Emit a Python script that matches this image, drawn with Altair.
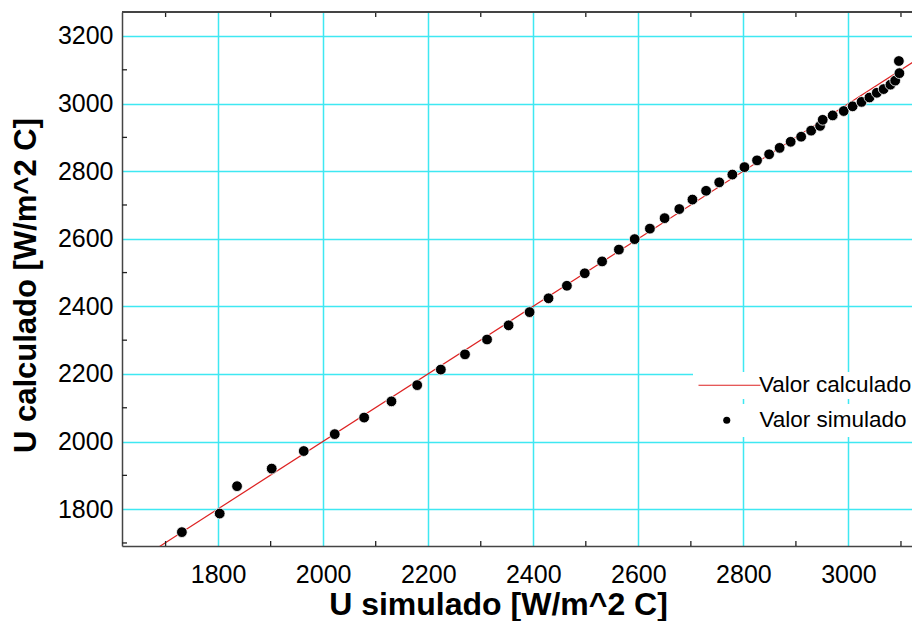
import altair as alt
import pandas as pd

# ---- data ----
sim_x = [1731, 1803, 1836, 1902, 1963, 2022, 2078, 2130, 2179, 2224,
         2270, 2312, 2353, 2393, 2429, 2464, 2498, 2531, 2563, 2593,
         2622, 2650, 2678, 2703, 2729, 2754, 2779, 2802, 2826, 2849,
         2869, 2890, 2910, 2929, 2946, 2951, 2970, 2991, 3008, 3025,
         3040, 3054, 3067, 3080, 3089, 3097, 3096]
sim_y = [1732, 1787, 1868, 1920, 1972, 2022, 2071, 2119, 2167, 2213,
         2258, 2302, 2344, 2383, 2424, 2461, 2498, 2533, 2568, 2599,
         2630, 2661, 2688, 2716, 2742, 2767, 2790, 2812, 2832, 2850,
         2869, 2887, 2902, 2920, 2934, 2952, 2965, 2978, 2992, 3005,
         3018, 3032, 3043, 3056, 3068, 3090, 3126]

calc_x = [1650, 3150]
calc_y = [1651, 3150]

x_major = [1800, 2000, 2200, 2400, 2600, 2800, 3000]
x_minor = [1700, 1900, 2100, 2300, 2500, 2700, 2900, 3100]
y_major = [1800, 2000, 2200, 2400, 2600, 2800, 3000, 3200]
y_minor = [1700, 1900, 2100, 2300, 2500, 2700, 2900, 3100]

x_domain = [1617, 3121]
y_domain = [1691, 3271]

W, H = 790, 534
FONT = "Liberation Sans"
GRID = "#3ee8f2"
AXIS = "#444444"
RED = "#dd2222"

sim_df = pd.DataFrame({"x": sim_x, "y": sim_y, "serie": "Valor simulado"})
calc_df = pd.DataFrame({"x": calc_x, "y": calc_y, "serie": "Valor calculado"})
xminor_df = pd.DataFrame({"v": x_minor})
yminor_df = pd.DataFrame({"v": y_minor})

xscale = alt.Scale(domain=x_domain, nice=False, zero=False)
yscale = alt.Scale(domain=y_domain, nice=False, zero=False)

xaxis = alt.Axis(values=x_major, format="d", grid=True, gridColor=GRID, gridWidth=1.5,
                 domain=True, domainColor=AXIS, domainWidth=1.5,
                 ticks=False, tickSize=0, labelFont=FONT, labelFontSize=25,
                 labelColor="black", labelPadding=16, labelFlush=False,
                 title="U simulado [W/m^2 C]", titleFont=FONT, titleFontSize=32,
                 titleFontWeight="bold", titleColor="black",
                 titleAlign="center", titleBaseline="alphabetic",
                 titleX=376, titleY=68)
yaxis = alt.Axis(values=y_major, format="d", grid=True, gridColor=GRID, gridWidth=1.5,
                 domain=True, domainColor=AXIS, domainWidth=1.5,
                 ticks=False, tickSize=0, labelFont=FONT, labelFontSize=25,
                 labelColor="black", labelPadding=9, labelFlush=False,
                 title="U calculado [W/m^2 C]", titleFont=FONT, titleFontSize=31,
                 titleFontWeight="bold", titleColor="black", titleAngle=270,
                 titleAlign="center", titleBaseline="alphabetic",
                 titleX=-87, titleY=273)

line = alt.Chart(calc_df).mark_line(strokeWidth=1.2, clip=True).encode(
    x=alt.X("x:Q", scale=xscale, axis=xaxis),
    y=alt.Y("y:Q", scale=yscale, axis=yaxis),
    color=alt.Color("serie:N",
                    scale=alt.Scale(domain=["Valor calculado"], range=[RED]),
                    legend=alt.Legend(orient="none", legendX=571, legendY=360,
                                      title=None, fillColor="white", padding=2,
                                      symbolType="M-1,0H7", symbolSize=240,
                                      symbolStrokeColor=RED,
                                      symbolStrokeWidth=1.2, labelOffset=41.5,
                                      labelFont=FONT, labelFontSize=22.5,
                                      labelColor="black")),
)

points = alt.Chart(sim_df).mark_point(filled=True, size=115, opacity=1,
                                      stroke="white", strokeWidth=0.8).encode(
    x=alt.X("x:Q", scale=xscale),
    y=alt.Y("y:Q", scale=yscale),
    fill=alt.value("black"),
    shape=alt.Shape("serie:N",
                    scale=alt.Scale(domain=["Valor simulado"], range=["circle"]),
                    legend=alt.Legend(orient="none", legendX=588.5, legendY=392,
                                      title=None, fillColor="white", padding=5,
                                      symbolSize=50, symbolFillColor="black",
                                      symbolStrokeWidth=0, labelOffset=21.4,
                                      labelFont=FONT, labelFontSize=22.5,
                                      labelColor="black")),
)

top_ticks = alt.Chart(xminor_df).mark_rule(color="#222222", strokeWidth=1.3).encode(
    x=alt.X("v:Q", scale=xscale), y=alt.value(0), y2=alt.value(5))
bottom_ticks = alt.Chart(xminor_df).mark_rule(color="#222222", strokeWidth=1.3).encode(
    x=alt.X("v:Q", scale=xscale), y=alt.value(H), y2=alt.value(H - 5))
left_ticks = alt.Chart(yminor_df).mark_rule(color="#222222", strokeWidth=1.3).encode(
    y=alt.Y("v:Q", scale=yscale), x=alt.value(0), x2=alt.value(5))
top_border = alt.Chart(xminor_df).mark_rule(color=AXIS, strokeWidth=1.5).encode(
    x=alt.value(0), x2=alt.value(W), y=alt.value(0))

chart = alt.layer(line, top_ticks, bottom_ticks, left_ticks, top_border, points).properties(
    width=W, height=H,
    autosize=alt.AutoSizeParams(type="none"),
    padding={"left": 114, "top": 4, "right": 0, "bottom": 75},
    background="white",
).configure_view(stroke=None)

chart.save("out.html", embed_options={"renderer": "svg", "actions": False})
